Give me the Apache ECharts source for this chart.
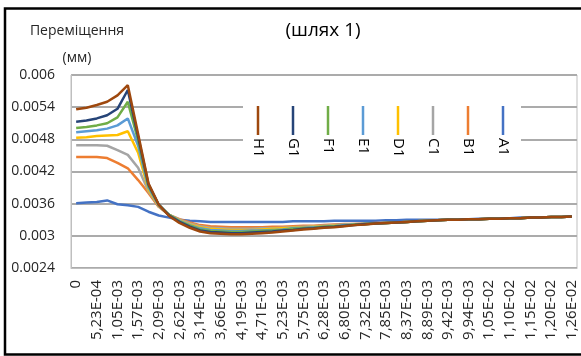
<!DOCTYPE html>
<html>
<head>
<meta charset="utf-8">
<script src="https://cdn.jsdelivr.net/npm/echarts@6/dist/echarts.min.js"></script>
<style>
  html, body { margin: 0; padding: 0; background: #fff; }
  #chart { width: 581px; height: 356px; }
</style>
</head>
<body>
<div id="chart"></div>
<script>
// categories (only every second label is shown)
const cats = ['0', '2,62E-04', '5,23E-04', '7,85E-04', '1,05E-03', '1,31E-03', '1,57E-03', '1,83E-03',
  '2,09E-03', '2,35E-03', '2,62E-03', '2,88E-03', '3,14E-03', '3,40E-03', '3,66E-03', '3,92E-03',
  '4,19E-03', '4,45E-03', '4,71E-03', '4,97E-03', '5,23E-03', '5,49E-03', '5,75E-03', '6,02E-03',
  '6,28E-03', '6,54E-03', '6,80E-03', '7,06E-03', '7,32E-03', '7,59E-03', '7,85E-03', '8,11E-03',
  '8,37E-03', '8,63E-03', '8,89E-03', '9,16E-03', '9,42E-03', '9,68E-03', '9,94E-03', '1,02E-02',
  '1,05E-02', '1,07E-02', '1,10E-02', '1,12E-02', '1,15E-02', '1,18E-02', '1,20E-02', '1,23E-02',
  '1,26E-02'];

const a1 = [0.00361, 0.00362, 0.00363, 0.00366, 0.00359, 0.00357, 0.00354, 0.00345, 0.00338, 0.00334,
  0.0033, 0.00328, 0.00327, 0.00326, 0.00326, 0.00326, 0.00326, 0.00326, 0.00326, 0.00326,
  0.00326, 0.00327, 0.00327, 0.00327, 0.00327, 0.00328, 0.00328, 0.00328, 0.00328, 0.00328,
  0.00329, 0.00329, 0.0033, 0.0033, 0.0033, 0.0033, 0.00331, 0.00331, 0.00331, 0.00332,
  0.00332, 0.00333, 0.00333, 0.00334, 0.00334, 0.00334, 0.00335, 0.00335, 0.00336];
const b1 = [0.00447, 0.00447, 0.00447, 0.00445, 0.00436, 0.00426, 0.00404, 0.0038, 0.00354, 0.00339,
  0.00331, 0.00325, 0.0032, 0.00318, 0.00317, 0.00316, 0.00316, 0.00316, 0.00316, 0.00317,
  0.00317, 0.00318, 0.00319, 0.00319, 0.0032, 0.00321, 0.00322, 0.00322, 0.00323, 0.00324,
  0.00324, 0.00325, 0.00326, 0.00327, 0.00328, 0.00329, 0.0033, 0.0033, 0.00331, 0.00331,
  0.00332, 0.00332, 0.00333, 0.00333, 0.00334, 0.00334, 0.00335, 0.00335, 0.00336];
const c1 = [0.00469, 0.00469, 0.00469, 0.00468, 0.0046, 0.00451, 0.00427, 0.00383, 0.00355, 0.00339,
  0.0033, 0.00323, 0.00318, 0.00315, 0.00314, 0.00313, 0.00313, 0.00313, 0.00314, 0.00314,
  0.00315, 0.00316, 0.00317, 0.00318, 0.00319, 0.0032, 0.00321, 0.00322, 0.00323, 0.00323,
  0.00324, 0.00325, 0.00326, 0.00327, 0.00328, 0.00329, 0.0033, 0.0033, 0.00331, 0.00331,
  0.00332, 0.00332, 0.00333, 0.00333, 0.00334, 0.00334, 0.00335, 0.00335, 0.00336];
const d1 = [0.00483, 0.00484, 0.00486, 0.00487, 0.00488, 0.00495, 0.00455, 0.00386, 0.00356, 0.00339,
  0.00329, 0.00321, 0.00316, 0.00313, 0.00312, 0.00311, 0.00311, 0.00311, 0.00312, 0.00313,
  0.00314, 0.00315, 0.00316, 0.00317, 0.00318, 0.00319, 0.0032, 0.00321, 0.00322, 0.00323,
  0.00324, 0.00325, 0.00326, 0.00327, 0.00328, 0.00329, 0.0033, 0.0033, 0.00331, 0.00331,
  0.00332, 0.00332, 0.00333, 0.00333, 0.00334, 0.00334, 0.00335, 0.00335, 0.00336];
const e1 = [0.00493, 0.00495, 0.00497, 0.005, 0.00506, 0.00519, 0.00468, 0.0039, 0.00357, 0.00339,
  0.00328, 0.0032, 0.00314, 0.00311, 0.0031, 0.00309, 0.00309, 0.0031, 0.0031, 0.00311,
  0.00312, 0.00314, 0.00315, 0.00316, 0.00317, 0.00318, 0.0032, 0.00321, 0.00322, 0.00323,
  0.00324, 0.00325, 0.00326, 0.00327, 0.00328, 0.00329, 0.0033, 0.0033, 0.00331, 0.00331,
  0.00332, 0.00332, 0.00333, 0.00333, 0.00334, 0.00334, 0.00335, 0.00335, 0.00336];
const f1 = [0.00501, 0.00503, 0.00506, 0.0051, 0.00521, 0.0055, 0.00478, 0.00393, 0.00358, 0.00339,
  0.00327, 0.00319, 0.00312, 0.00309, 0.00308, 0.00307, 0.00307, 0.00308, 0.00309, 0.0031,
  0.00311, 0.00313, 0.00314, 0.00315, 0.00317, 0.00318, 0.00319, 0.00321, 0.00322, 0.00323,
  0.00324, 0.00325, 0.00326, 0.00327, 0.00328, 0.00329, 0.0033, 0.0033, 0.00331, 0.00331,
  0.00332, 0.00332, 0.00333, 0.00333, 0.00334, 0.00334, 0.00335, 0.00335, 0.00336];
const g1 = [0.00513, 0.00515, 0.00519, 0.00525, 0.00537, 0.00572, 0.00485, 0.00396, 0.00358, 0.00338,
  0.00326, 0.00317, 0.0031, 0.00307, 0.00306, 0.00305, 0.00305, 0.00306, 0.00307, 0.00308,
  0.0031, 0.00311, 0.00313, 0.00314, 0.00316, 0.00317, 0.00319, 0.0032, 0.00322, 0.00323,
  0.00324, 0.00325, 0.00326, 0.00327, 0.00328, 0.00329, 0.0033, 0.0033, 0.00331, 0.00331,
  0.00332, 0.00332, 0.00333, 0.00333, 0.00334, 0.00334, 0.00335, 0.00335, 0.00336];
const h1 = [0.00536, 0.00539, 0.00544, 0.0055, 0.00562, 0.00581, 0.0049, 0.00398, 0.00358, 0.00337,
  0.00324, 0.00315, 0.00308, 0.00305, 0.00304, 0.00303, 0.00303, 0.00304, 0.00305, 0.00306,
  0.00308, 0.0031, 0.00312, 0.00313, 0.00315, 0.00316, 0.00318, 0.0032, 0.00321, 0.00323,
  0.00324, 0.00325, 0.00326, 0.00327, 0.00328, 0.00329, 0.0033, 0.0033, 0.00331, 0.00331,
  0.00332, 0.00332, 0.00333, 0.00333, 0.00334, 0.00334, 0.00335, 0.00335, 0.00336];

const names = ['A1', 'B1', 'C1', 'D1', 'E1', 'F1', 'G1', 'H1'];
const values = [a1, b1, c1, d1, e1, f1, g1, h1];
const colors = ['#4472C4', '#ED7D31', '#A5A5A5', '#FFC000', '#5B9BD5', '#70AD47', '#264478', '#9E480E'];

const chart = echarts.init(document.getElementById('chart'));
const font = 'Open Sans';
const txt = '#262626';

// legend: H1 ... A1 from left to right, vertical marks with rotated text
let legend = [];
let order = names.slice().reverse();
order.forEach((n, i) => {
  let k = names.indexOf(n);
  let x = 258 + i * 35;
  legend.push({
    type: 'line', z: 20,
    shape: { x1: x, y1: 106, x2: x, y2: 135 },
    style: { stroke: colors[k], lineWidth: 2.5 }
  });
  legend.push({
    type: 'text', z: 20, x: x, y: 138, rotation: -Math.PI / 2,
    style: { text: n, font: '15px "' + font + '"', fill: '#000', textAlign: 'left', textVerticalAlign: 'middle' }
  });
});

chart.setOption({
  animation: false,
  backgroundColor: '#fff',
  title: [
    { text: '(шлях 1)', left: 318, top: 12, textAlign: 'center',
      textStyle: { fontFamily: font, fontSize: 19, fontWeight: 'normal', color: '#000', lineHeight: 28 } },
    { text: 'Переміщення\n(мм)', left: 72, top: 13, textAlign: 'center',
      textStyle: { fontFamily: font, fontSize: 14, fontWeight: 'normal', color: txt, lineHeight: 27 } }
  ],
  grid: { left: 71, right: 4, top: 75, bottom: 88, show: true, borderColor: '#bfbfbf', borderWidth: 1 },
  xAxis: {
    type: 'category', data: cats, boundaryGap: true,
    axisLine: { lineStyle: { color: '#bfbfbf' } },
    axisTick: { show: false },
    axisLabel: { interval: 1, rotate: 90, margin: 12, color: txt, fontFamily: font, fontSize: 15 }
  },
  yAxis: {
    type: 'value', min: 0.0024, max: 0.006, interval: 0.0006,
    axisLine: { show: true, lineStyle: { color: '#bfbfbf' } },
    axisTick: { show: false },
    splitLine: { lineStyle: { color: '#ababab', width: 2 } },
    axisLabel: { margin: 16, color: txt, fontFamily: font, fontSize: 14,
      formatter: v => String(Number(v.toFixed(4))) }
  },
  series: names.map((n, k) => ({
    name: n, type: 'line', data: values[k], symbol: 'none',
    lineStyle: { color: colors[k], width: 2.5 }, itemStyle: { color: colors[k] }
  })),
  graphic: [
    { type: 'rect', z: 10, shape: { x: 243, y: 100, width: 278, height: 62 }, style: { fill: '#fff' } },
    ...legend,
    { type: 'rect', z: 30, shape: { x: 5, y: 8.5, width: 640, height: 346 },
      style: { fill: 'none', stroke: '#000', lineWidth: 2.5 } }
  ]
});
</script>
</body>
</html>
